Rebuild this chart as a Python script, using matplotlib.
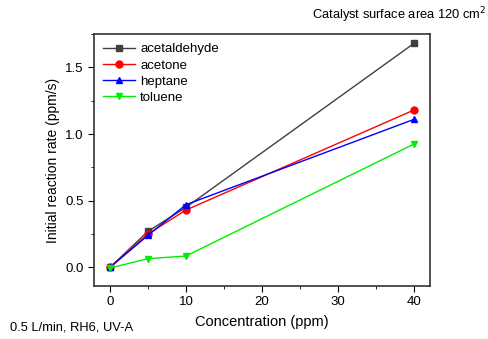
import matplotlib
matplotlib.use("Agg")
import matplotlib.pyplot as plt
from matplotlib.ticker import MultipleLocator, FormatStrFormatter

plt.rcParams['font.family'] = ['Liberation Sans', 'DejaVu Sans']

concentration = [0, 5, 10, 40]
acetaldehyde = [0.0, 0.27, 0.45, 1.68]
acetone = [0.0, 0.25, 0.43, 1.18]
heptane = [0.0, 0.24, 0.47, 1.11]
toluene = [-0.005, 0.065, 0.085, 0.925]

series = [
    ("acetaldehyde", acetaldehyde, "#404040", "s"),
    ("acetone", acetone, "#ff0000", "o"),
    ("heptane", heptane, "#0000ff", "^"),
    ("toluene", toluene, "#00ee00", "v"),
]

fig = plt.figure(figsize=(4.88, 3.39), dpi=100)
ax = fig.add_axes([94 / 488, 1 - 286 / 339, 336 / 488, 252 / 339])

for name, vals, color, marker in series:
    ax.plot(concentration, vals, color=color, marker=marker, markersize=5,
            linewidth=1.0, label=name)

ax.set_xlim(-2.1, 42.1)
ax.set_ylim(-0.14, 1.75)
ax.xaxis.set_major_locator(MultipleLocator(10))
ax.xaxis.set_minor_locator(MultipleLocator(5))
ax.yaxis.set_major_locator(MultipleLocator(0.5))
ax.yaxis.set_minor_locator(MultipleLocator(0.25))
ax.yaxis.set_major_formatter(FormatStrFormatter('%.1f'))
ax.tick_params(which='both', direction='out', labelsize=9.5, top=False, right=False)
ax.tick_params(which='major', length=4)
ax.tick_params(which='minor', length=2.5)
for s in ax.spines.values():
    s.set_linewidth(1.2)
    s.set_color('#333333')

ax.set_xlabel("Concentration (ppm)", fontsize=10.5, labelpad=5)
ax.set_ylabel("Initial reaction rate (ppm/s)", fontsize=10, labelpad=4)

ax.legend(loc='upper left', frameon=False, fontsize=9.5, handlelength=2.4,
          borderaxespad=0.3, labelspacing=0.3, handletextpad=0.4)

fig.text(0.996, 0.955, "Catalyst surface area 120 cm$^2$", ha='right', va='center', fontsize=9.3)
fig.text(0.02, 0.035, "0.5 L/min, RH6, UV-A", ha='left', va='center', fontsize=9.3)

fig.savefig("out.png", dpi=100)
